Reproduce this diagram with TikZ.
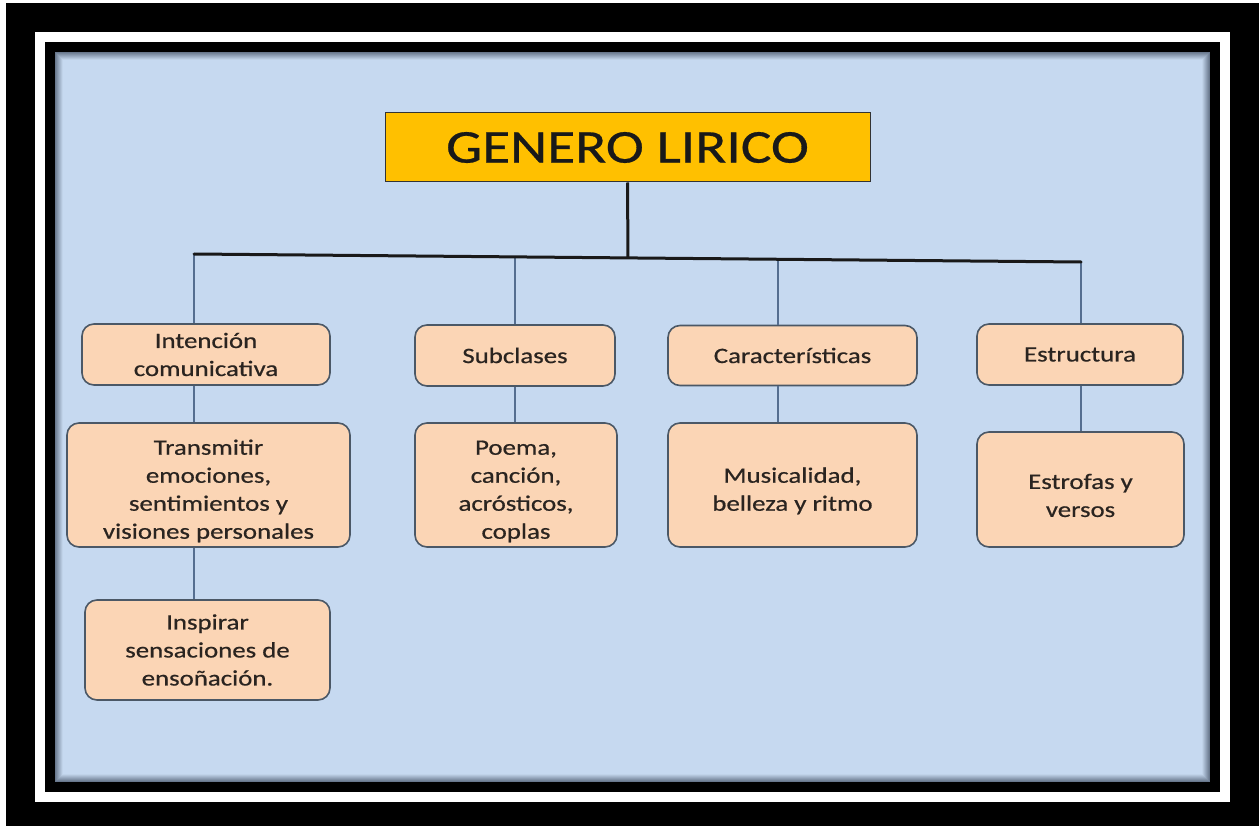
\documentclass[tikz,border=0pt]{standalone}
\usepackage{fontspec}
\setmainfont{Carlito}[FakeStretch=1.22,FakeBold=0.6]
\usetikzlibrary{calc,positioning}

\definecolor{fondo}{HTML}{C6D9F0}
\definecolor{sombra}{HTML}{4A586C}
\definecolor{oro}{HTML}{FFC000}
\definecolor{durazno}{HTML}{FBD5B5}
\definecolor{borde}{HTML}{4B5866}
\definecolor{linea}{HTML}{556E90}
\definecolor{texto}{HTML}{2A2420}
\newcommand{\alto}{\rule{0pt}{27pt}}

\begin{document}
\begin{tikzpicture}[x=1pt,y=-1pt,
  caja/.style={draw=borde, line width=1.6pt, fill=durazno, rounded corners=12pt, text=texto, align=center, inner sep=0pt, font=\fontsize{22}{28}\selectfont},
  titulo/.style={draw=black!80, line width=1pt, fill=oro, text=black!90, inner sep=0pt, font=\fontsize{47}{56}\selectfont},
  rama/.style={draw=linea, line width=1.3pt},
  barra/.style={draw=black!90, line width=3pt}]
\useasboundingbox (0,0) rectangle (1259,826);
% marco
\fill[white] (0,0) rectangle (1259,826);
\fill[black] (6,3) rectangle (1259,826);
\fill[white] (35,32) rectangle (1230,802);
\fill[black] (45,42) rectangle (1220,792);
\fill[fondo] (55,52) rectangle (1210,782);
\foreach \i in {0,...,7}{
  \pgfmathtruncatemacro\m{75-\i*10}
  \draw[sombra!\m!fondo, line width=1pt] (55.5+\i,52.5+\i) rectangle (1209.5-\i,781.5-\i);
}

% nodos
\node[titulo, minimum width=485pt, minimum height=69pt] (genero) at (627.5,147.5) {GENERO LIRICO};

\node[caja, minimum width=248pt, minimum height=61pt] (intencion) at (206,354.5) {Intención\\comunicativa};
\node[caja, minimum width=200pt, minimum height=61pt] (subclases) at (515,355.5) {Subclases};
\node[caja, minimum width=249pt, minimum height=60pt] (caracteristicas) at (792.5,355.5) {Características};
\node[caja, minimum width=206pt, minimum height=61pt] (estructura) at (1080,354.5) {Estructura};

\node[caja, minimum width=283pt, minimum height=124pt] (transmitir) at (208.5,485) {\alto Transmitir\\emociones,\\sentimientos y\\visiones personales};
\node[caja, minimum width=202pt, minimum height=124pt] (poema) at (516,485) {\alto Poema,\\canción,\\acrósticos,\\coplas};
\node[caja, minimum width=249pt, minimum height=124pt] (musicalidad) at (792.5,485) {\alto Musicalidad,\\belleza y ritmo};
\node[caja, minimum width=207pt, minimum height=115pt] (estrofas) at (1080.5,489.5) {\alto Estrofas y\\versos};

\node[caja, minimum width=245pt, minimum height=100pt] (inspirar) at (207.5,650) {Inspirar\\sensaciones de\\ensoñación.};

% conectores
\coordinate (c1) at (194,254);
\coordinate (c2) at (515,257);
\coordinate (c0) at (628,258);
\coordinate (c3) at (778,259.3);
\coordinate (c4) at (1081,262);
\draw[rama] (c1) -- (c1 |- intencion.north);
\draw[rama] (c2) -- (c2 |- subclases.north);
\draw[rama] (c3) -- (c3 |- caracteristicas.north);
\draw[rama] (c4) -- (c4 |- estructura.north);
\draw[rama] (c1 |- intencion.south) -- (c1 |- transmitir.north);
\draw[rama] (c1 |- transmitir.south) -- (c1 |- inspirar.north);
\draw[rama] (c2 |- subclases.south) -- (c2 |- poema.north);
\draw[rama] (c3 |- caracteristicas.south) -- (c3 |- musicalidad.north);
\draw[rama] (c4 |- estructura.south) -- (c4 |- estrofas.north);
\draw[barra, line cap=round] (c1) -- (c4);
\draw[barra] (genero.south) -- (c0);
\end{tikzpicture}
\end{document}
